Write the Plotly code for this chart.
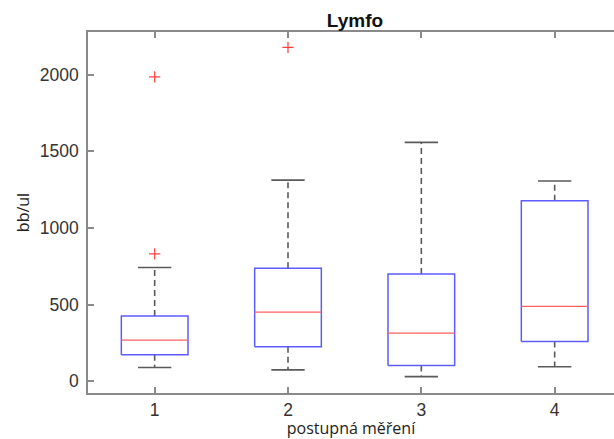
import plotly.graph_objects as go

# ---- data ----
categories = [1, 2, 3, 4]
tick_labels = ["1", "2", "3", "4"]
q1 = [173, 225, 103, 260]
median = [269, 452, 315, 489]
q3 = [426, 737, 700, 1178]
whisker_lo = [90, 75, 31, 95]
whisker_hi = [742, 1312, 1558, 1306]
outlier_x = [1, 1, 2]
outlier_y = [831, 1986, 2178]

title_text = "Lymfo"
x_title = "postupná měření"
y_title = "bb/ul"

box_half = 0.25
cap_half = 0.125

fig = go.Figure()

# whiskers (dashed)
wx, wy = [], []
for c, a, b, lo, hi in zip(categories, q1, q3, whisker_lo, whisker_hi):
    wx += [c, c, None, c, c, None]
    wy += [b, hi, None, a, lo, None]
fig.add_trace(go.Scatter(x=wx, y=wy, mode="lines",
                         line=dict(color="#5a5a5a", width=1.6, dash="6px,4px"),
                         hoverinfo="skip", showlegend=False))
# caps
cx, cy = [], []
for c, lo, hi in zip(categories, whisker_lo, whisker_hi):
    cx += [c - cap_half, c + cap_half, None, c - cap_half, c + cap_half, None]
    cy += [hi, hi, None, lo, lo, None]
fig.add_trace(go.Scatter(x=cx, y=cy, mode="lines",
                         line=dict(color="#5a5a5a", width=1.6),
                         hoverinfo="skip", showlegend=False))
# boxes
bx, by = [], []
for c, a, b in zip(categories, q1, q3):
    bx += [c - box_half, c + box_half, c + box_half, c - box_half, c - box_half, None]
    by += [a, a, b, b, a, None]
fig.add_trace(go.Scatter(x=bx, y=by, mode="lines",
                         line=dict(color="#5c5cff", width=1.5),
                         hoverinfo="skip", showlegend=False))
# medians
mx, my = [], []
for c, m in zip(categories, median):
    mx += [c - box_half, c + box_half, None]
    my += [m, m, None]
fig.add_trace(go.Scatter(x=mx, y=my, mode="lines",
                         line=dict(color="#ff6060", width=1.2),
                         hoverinfo="skip", showlegend=False))
# outliers
fig.add_trace(go.Scatter(x=outlier_x, y=outlier_y, mode="markers",
                         marker=dict(symbol="cross-thin", size=8,
                                     line=dict(color="#ff4040", width=1.2)),
                         hoverinfo="skip", showlegend=False))

axis_color = "#8a8a8a"
fig.update_layout(
    width=614, height=439,
    margin=dict(l=88, r=0, t=32, b=46),
    paper_bgcolor="white", plot_bgcolor="white",
    title=dict(text="<b>" + title_text + "</b>", x=355 / 614, xref="container",
               xanchor="center", y=1 - 20 / 439, yref="container", yanchor="middle",
               font=dict(family="Liberation Sans", size=19, color="#111111")),
    xaxis=dict(range=[0.5, 0.5 + (614 - 88) / 133.33], tickvals=categories,
               ticktext=tick_labels, showgrid=False, zeroline=False,
               showline=True, linecolor=axis_color, linewidth=1.5, mirror="ticks",
               ticks="inside", ticklen=6, tickcolor=axis_color, tickwidth=1.5,
               tickfont=dict(family="Liberation Sans", size=17.5, color="#333333"),
               title=dict(text=x_title, standoff=6,
                          font=dict(family="Open Sans", size=16, color="#222222"))),
    yaxis=dict(range=[-76, 2278], tickvals=[0, 500, 1000, 1500, 2000],
               showgrid=False, zeroline=False,
               showline=True, linecolor=axis_color, linewidth=1.5, mirror=False,
               ticks="inside", ticklen=6, tickcolor=axis_color, tickwidth=1.5,
               ticklabelstandoff=4,
               tickfont=dict(family="Liberation Sans", size=17.5, color="#333333"),
               title=dict(text=y_title, standoff=6,
                          font=dict(family="Open Sans", size=16, color="#222222"))),
)

fig.write_html("out.html")
